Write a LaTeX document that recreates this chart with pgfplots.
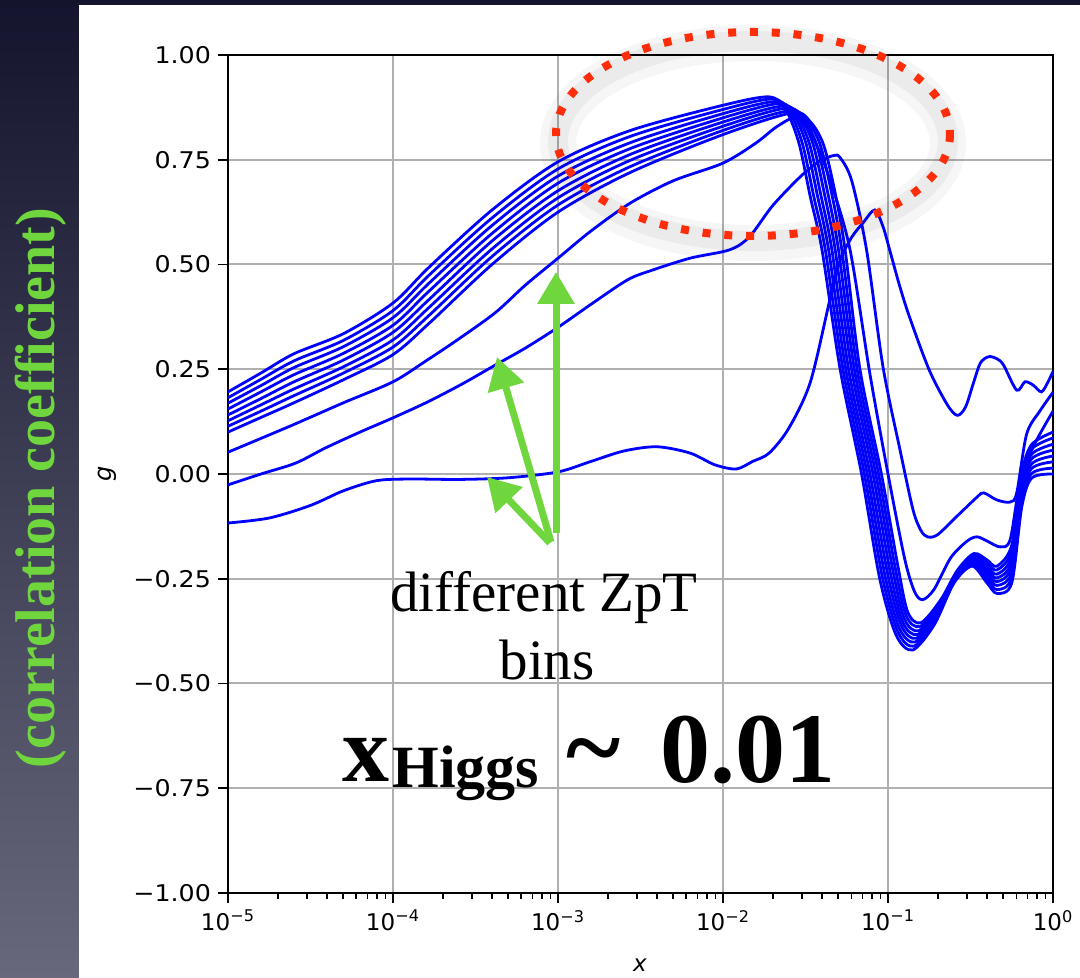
\documentclass[border=0pt]{standalone}
\usepackage{pgfplots}
\pgfplotsset{compat=1.18}
\usepackage{pgfplotstable}
\usepackage{graphicx}
\usepackage{fontspec}
\setmainfont{Liberation Serif}
\newfontfamily\dejavu{DejaVu Sans}
\usetikzlibrary{arrows.meta}

\definecolor{curve}{RGB}{0,0,255}
\definecolor{gridc}{RGB}{176,176,176}
\definecolor{arrowgreen}{RGB}{112,214,62}
\definecolor{dotred}{RGB}{255,45,10}
\definecolor{bgtop}{RGB}{20,20,46}
\definecolor{bgbot}{RGB}{104,104,124}

% bundle of 8 ZpT bins: columns d_k = log10(x), y_k = g
\pgfplotstableread[row sep=\\]{
d0 y0 d1 y1 d2 y2 d3 y3 d4 y4 d5 y5 d6 y6 d7 y7 \\
-5 0.196 -5 0.182 -5 0.169 -5 0.155 -5 0.141 -5 0.127 -5 0.114 -5 0.100 \\
-4.8 0.241 -4.8 0.226 -4.8 0.211 -4.8 0.196 -4.8 0.180 -4.8 0.165 -4.8 0.150 -4.8 0.135 \\
-4.6 0.287 -4.6 0.270 -4.6 0.254 -4.6 0.237 -4.6 0.220 -4.6 0.203 -4.6 0.187 -4.6 0.170 \\
-4.3 0.335 -4.3 0.319 -4.3 0.304 -4.3 0.288 -4.3 0.272 -4.3 0.256 -4.3 0.241 -4.3 0.225 \\
-4.0 0.408 -4.0 0.390 -4.0 0.373 -4.0 0.355 -4.0 0.338 -4.0 0.320 -4.0 0.303 -4.0 0.285 \\
-3.78 0.494 -3.78 0.475 -3.78 0.456 -3.78 0.437 -3.78 0.417 -3.78 0.398 -3.78 0.379 -3.78 0.360 \\
-3.4 0.630 -3.4 0.611 -3.4 0.593 -3.4 0.574 -3.4 0.556 -3.4 0.537 -3.4 0.519 -3.4 0.500 \\
-3.0 0.745 -3.0 0.728 -3.0 0.711 -3.0 0.694 -3.0 0.676 -3.0 0.659 -3.0 0.642 -3.0 0.625 \\
-2.56 0.820 -2.56 0.806 -2.56 0.791 -2.56 0.777 -2.56 0.763 -2.56 0.749 -2.56 0.734 -2.56 0.720 \\
-2.0 0.880 -2.0 0.870 -2.0 0.860 -2.0 0.850 -2.0 0.840 -2.0 0.830 -2.0 0.820 -2.0 0.810 \\
-1.72 0.900 -1.70 0.895 -1.68 0.889 -1.66 0.884 -1.64 0.878 -1.62 0.873 -1.60 0.867 -1.58 0.862 \\
-1.620 0.870 -1.599 0.866 -1.577 0.861 -1.556 0.857 -1.534 0.853 -1.513 0.849 -1.491 0.844 -1.470 0.840 \\
-1.540 0.790 -1.519 0.789 -1.497 0.789 -1.476 0.788 -1.454 0.787 -1.433 0.786 -1.411 0.786 -1.390 0.785 \\
-1.470 0.660 -1.449 0.661 -1.427 0.663 -1.406 0.664 -1.384 0.666 -1.363 0.667 -1.341 0.669 -1.320 0.670 \\
-1.40 0.535 -1.38 0.535 -1.36 0.535 -1.34 0.535 -1.32 0.535 -1.30 0.535 -1.28 0.535 -1.26 0.535 \\
-1.290 0.25 -1.273 0.25 -1.256 0.25 -1.239 0.25 -1.221 0.25 -1.204 0.25 -1.187 0.25 -1.170 0.25 \\
-1.160 0.0 -1.143 0.0 -1.126 0.0 -1.109 0.0 -1.091 0.0 -1.074 0.0 -1.057 0.0 -1.040 0.0 \\
-1.050 -0.250 -1.034 -0.246 -1.019 -0.241 -1.003 -0.237 -0.987 -0.233 -0.971 -0.229 -0.956 -0.224 -0.940 -0.220 \\
-0.95 -0.385 -0.94 -0.377 -0.93 -0.369 -0.92 -0.361 -0.91 -0.354 -0.90 -0.346 -0.89 -0.338 -0.88 -0.330 \\
-0.850 -0.420 -0.843 -0.411 -0.836 -0.401 -0.829 -0.392 -0.821 -0.383 -0.814 -0.374 -0.807 -0.364 -0.800 -0.355 \\
-0.720 -0.360 -0.714 -0.351 -0.709 -0.343 -0.703 -0.334 -0.697 -0.326 -0.691 -0.317 -0.686 -0.309 -0.680 -0.300 \\
-0.600 -0.260 -0.597 -0.256 -0.594 -0.251 -0.591 -0.247 -0.589 -0.243 -0.586 -0.239 -0.583 -0.234 -0.580 -0.230 \\
-0.490 -0.220 -0.489 -0.216 -0.487 -0.211 -0.486 -0.207 -0.484 -0.203 -0.483 -0.199 -0.481 -0.194 -0.480 -0.190 \\
-0.40 -0.260 -0.40 -0.252 -0.40 -0.244 -0.40 -0.236 -0.40 -0.229 -0.40 -0.221 -0.40 -0.213 -0.40 -0.205 \\
-0.34 -0.285 -0.34 -0.276 -0.34 -0.266 -0.34 -0.257 -0.34 -0.248 -0.34 -0.239 -0.34 -0.229 -0.34 -0.220 \\
-0.25 -0.260 -0.25 -0.247 -0.25 -0.234 -0.25 -0.221 -0.25 -0.209 -0.25 -0.196 -0.25 -0.183 -0.25 -0.170 \\
-0.19 -0.080 -0.19 -0.069 -0.19 -0.057 -0.19 -0.046 -0.19 -0.034 -0.19 -0.023 -0.19 -0.011 -0.19 0.000 \\
-0.13 -0.010 -0.13 0.001 -0.13 0.013 -0.13 0.024 -0.13 0.036 -0.13 0.047 -0.13 0.059 -0.13 0.070 \\
0 0.000 0 0.014 0 0.029 0 0.043 0 0.057 0 0.071 0 0.086 0 0.100 \\
}\bundle

% lowest ZpT bin
\pgfplotstableread[row sep=\\]{
d y \\
-5.0 -0.117 \\ -4.75 -0.105 \\ -4.5 -0.075 \\ -4.3 -0.040 \\ -4.1 -0.016 \\
-3.9 -0.012 \\ -3.6 -0.013 \\ -3.3 -0.009 \\ -3.0 0.005 \\ -2.8 0.030 \\
-2.6 0.055 \\ -2.4 0.065 \\ -2.2 0.050 \\ -2.05 0.022 \\ -1.92 0.012 \\
-1.82 0.030 \\ -1.72 0.050 \\ -1.60 0.110 \\ -1.47 0.220 \\ -1.35 0.420 \\
-1.29 0.510 \\ -1.22 0.565 \\ -1.15 0.600 \\ -1.08 0.630 \\ -1.03 0.590 \\
-0.99 0.535 \\ -0.93 0.450 \\ -0.87 0.375 \\ -0.75 0.248 \\ -0.64 0.165 \\
-0.58 0.140 \\ -0.53 0.160 \\ -0.48 0.220 \\ -0.44 0.265 \\ -0.39 0.280 \\
-0.34 0.275 \\ -0.30 0.260 \\ -0.22 0.200 \\ -0.17 0.220 \\ -0.12 0.212 \\
-0.07 0.196 \\ -0.03 0.220 \\ 0 0.245 \\
}\binA

\pgfplotstableread[row sep=\\]{
d y \\
-5.0 -0.026 \\ -4.8 0.000 \\ -4.59 0.026 \\ -4.41 0.062 \\ -4.2 0.100 \\
-4.0 0.134 \\ -3.79 0.172 \\ -3.58 0.215 \\ -3.38 0.260 \\ -3.2 0.300 \\
-3.0 0.350 \\ -2.8 0.405 \\ -2.58 0.463 \\ -2.44 0.485 \\ -2.2 0.515 \\
-1.96 0.535 \\ -1.84 0.566 \\ -1.70 0.640 \\ -1.53 0.710 \\ -1.42 0.745 \\
-1.33 0.760 \\ -1.29 0.755 \\ -1.22 0.700 \\ -1.13 0.535 \\ -1.03 0.255 \\
-0.927 0.057 \\ -0.848 -0.086 \\ -0.80 -0.135 \\ -0.76 -0.150 \\ -0.70 -0.145 \\
-0.58 -0.100 \\ -0.46 -0.055 \\ -0.42 -0.045 \\ -0.34 -0.062 \\ -0.26 -0.067 \\
-0.22 -0.045 \\ -0.16 0.095 \\ -0.08 0.150 \\ 0 0.195 \\
}\binB

\pgfplotstableread[row sep=\\]{
d y \\
-5.0 0.052 \\ -4.8 0.085 \\ -4.59 0.120 \\ -4.3 0.170 \\ -4.0 0.220 \\
-3.8 0.270 \\ -3.61 0.320 \\ -3.38 0.385 \\ -3.2 0.450 \\ -3.0 0.515 \\
-2.8 0.580 \\ -2.56 0.647 \\ -2.3 0.700 \\ -2.0 0.742 \\ -1.8 0.790 \\
-1.67 0.830 \\ -1.55 0.850 \\ -1.45 0.800 \\ -1.35 0.700 \\ -1.23 0.535 \\
-1.11 0.240 \\ -1.00 0.000 \\ -0.90 -0.200 \\ -0.84 -0.280 \\ -0.79 -0.300 \\
-0.72 -0.275 \\ -0.62 -0.200 \\ -0.52 -0.160 \\ -0.46 -0.150 \\ -0.40 -0.160 \\
-0.32 -0.174 \\ -0.26 -0.157 \\ -0.20 -0.020 \\ -0.12 0.065 \\ 0 0.150 \\
}\binC

\newcommand\yl[1]{\scalebox{1.1}[1]{#1}}
\newcommand\xl[1]{10\textsuperscript{#1}}

\begin{document}
\begin{tikzpicture}
\useasboundingbox (0,0) rectangle (540pt,489pt);
\shade[top color=bgtop,bottom color=bgbot] (0,0) rectangle (540pt,489pt);
\fill[white] (39.5pt,0) rectangle (540pt,486.5pt);
\begin{axis}[
  at={(114pt,42.5pt)}, anchor=south west,
  scale only axis, width=412.5pt, height=419pt,
  xmode=log, xmin=1e-5, xmax=1, ymin=-1, ymax=1,
  xtick={1e-5,1e-4,1e-3,1e-2,1e-1,1},
  xticklabels={\xl{−5},\xl{−4},\xl{−3},\xl{−2},\xl{−1},\xl{0}},
  ytick={-1,-0.75,-0.5,-0.25,0,0.25,0.5,0.75,1},
  yticklabels={\yl{−1.00},\yl{−0.75},\yl{−0.50},\yl{−0.25},\yl{0.00},\yl{0.25},\yl{0.50},\yl{0.75},\yl{1.00}},
  tick label style={font=\dejavu\fontsize{11.5}{13}\selectfont},
  tick align=outside, tick pos=left,
  major tick length=5pt,
  every tick/.style={black, line width=0.9pt},
  grid=major,
  major grid style={gridc, line width=1pt},
  axis line style={black, line width=1.3pt},
  bin/.style={curve, solid, line width=1.4pt, smooth, tension=0.5, mark=none},
]
\addplot[bin] table[x expr={10^(\thisrow{d0})}, y=y0] {\bundle};
\addplot[bin] table[x expr={10^(\thisrow{d1})}, y=y1] {\bundle};
\addplot[bin] table[x expr={10^(\thisrow{d2})}, y=y2] {\bundle};
\addplot[bin] table[x expr={10^(\thisrow{d3})}, y=y3] {\bundle};
\addplot[bin] table[x expr={10^(\thisrow{d4})}, y=y4] {\bundle};
\addplot[bin] table[x expr={10^(\thisrow{d5})}, y=y5] {\bundle};
\addplot[bin] table[x expr={10^(\thisrow{d6})}, y=y6] {\bundle};
\addplot[bin] table[x expr={10^(\thisrow{d7})}, y=y7] {\bundle};
\addplot[bin] table[x expr={10^(\thisrow{d})}, y=y] {\binC};
\addplot[bin] table[x expr={10^(\thisrow{d})}, y=y] {\binB};
\addplot[bin] table[x expr={10^(\thisrow{d})}, y=y] {\binA};
\end{axis}
\begin{scope}[x=0.5pt, y=-0.5pt, shift={(0pt,489pt)}]
  % x axis tick marks (major and log minor)
  \foreach \k in {0,...,5} \draw[black, line width=0.9pt] ({228+165*\k},893) -- ++(0,10);
  \foreach \k in {0,...,4}
    \foreach \l in {0.301,0.477,0.602,0.699,0.778,0.845,0.903,0.954}
      \draw[black, line width=0.8pt] ({228+165*(\k+\l)},893) -- ++(0,6);
  % axis labels
  \node[font=\dejavu\itshape\fontsize{11.5}{13}\selectfont] at (640,965) {x};
  \node[rotate=90, font=\dejavu\itshape\fontsize{12}{13}\selectfont] at (107,474) {g};
  % side label
  \node[rotate=90, text=arrowgreen, font=\bfseries\fontsize{28}{29}\selectfont] at (41,488) {(correlation coefficient)};
  % ellipse shadow and dotted ellipse
  \draw[black, opacity=0.035, line width=18pt] (753,143) ellipse [x radius=195, y radius=100];
  \draw[black, opacity=0.045, line width=10pt] (753,141) ellipse [x radius=195, y radius=100];
  \draw[dotred, line width=4pt, dash pattern=on 4pt off 6.9pt] (753,134) ellipse [x radius=197, y radius=102];
  % arrows
  \draw[arrowgreen, line width=3.5pt, -{Triangle[length=16pt,width=18pt]}] (556,533) -- (556,272);
  \draw[arrowgreen, line width=3.5pt, -{Triangle[length=16pt,width=18pt]}] (551,542) -- (497,357);
  \draw[arrowgreen, line width=3.5pt, -{Triangle[length=16pt,width=18pt]}] (550,543) -- (487,477);
  % texts
  \node[anchor=base, inner sep=0pt, font=\fontsize{28.5}{30}\selectfont] at (544,612) {different ZpT};
  \node[anchor=base, inner sep=0pt, font=\fontsize{28.5}{30}\selectfont] at (547,680) {bins};
  \node[anchor=base west, inner sep=0pt, font=\bfseries\fontsize{47}{50}\selectfont] at (342,782) {x};
  \node[anchor=base west, inner sep=0pt, font=\bfseries\fontsize{30}{32}\selectfont] at (392,788) {Higgs};
  \node[anchor=base west, inner sep=0pt, font=\bfseries\fontsize{52}{54}\selectfont] at (566,783) {\textasciitilde};
  \node[anchor=base west, inner sep=0pt, font=\bfseries\fontsize{50}{52}\selectfont] at (660,783) {0.01};
\end{scope}
\end{tikzpicture}
\end{document}
